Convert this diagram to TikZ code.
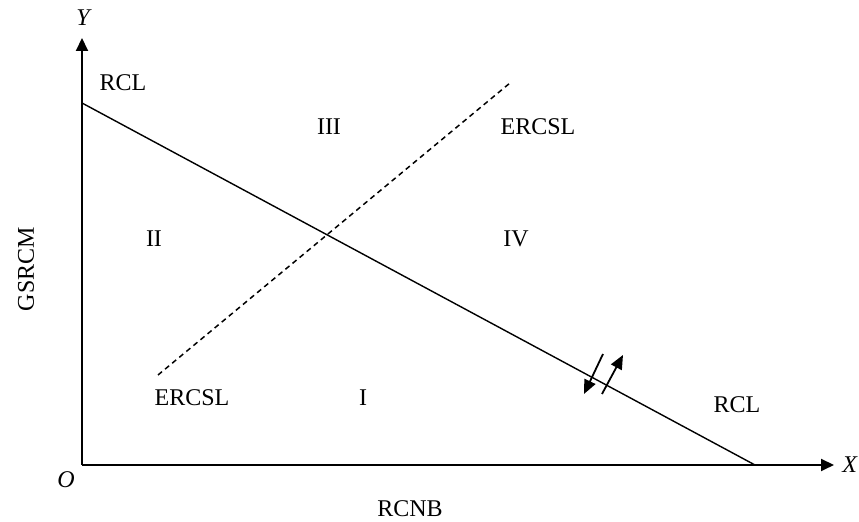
\documentclass[tikz,border=0pt]{standalone}
\usepackage{fontspec}
\setmainfont{Liberation Serif}
\usetikzlibrary{arrows.meta}
\tikzset{quad/.style={x=0.5pt,y=-0.5pt,font=\fontsize{12}{14}\selectfont}}
\tikzset{axis/.style={line width=1pt,-{Triangle[length=6.5pt,width=6pt]}},
         rcl/.style={line width=0.7pt},
         ercsl/.style={line width=0.75pt,dash pattern=on 2.6pt off 2pt},
         shiftarr/.style={line width=0.9pt,-{Triangle[length=7pt,width=6pt]}}}

\begin{document}
\begin{tikzpicture}[quad]
    \useasboundingbox (0,0) rectangle (859,522);
    \coordinate (O) at (82,465);
    \coordinate (ytop) at (82,38);
    \coordinate (xend) at (834,465);
    \draw[axis] (O) -- (ytop);
    \draw[axis] (O) -- (xend);
    \node (ylab) at (84,18) {\textit{Y}};
    \node (xlab) at (850,465) {\textit{X}};
    \node (olab) at (66,480) {\textit{O}};
    % the two lines
    \coordinate (rclA) at (82,103);
    \coordinate (rclB) at (755,465);
    \coordinate (ercA) at (158,375);
    \coordinate (ercB) at (510,83);
    \draw[rcl] (rclA) -- (rclB);
    \draw[ercsl] (ercA) -- (ercB);
    % shift arrows on RCL
    \coordinate (s1a) at (603,354);
    \coordinate (s1b) at (584,394);
    \coordinate (s2a) at (602,394);
    \coordinate (s2b) at (623,355);
    \draw[shiftarr] (s1a) -- (s1b);
    \draw[shiftarr] (s2a) -- (s2b);
    % labels
    \node (rcltop) at (123,83) {RCL};
    \node (rclbot) at (737,405) {RCL};
    \node (erctop) at (538,127) {ERCSL};
    \node (ercbot) at (192,398) {ERCSL};
    \node (q1) at (363,398) {I};
    \node (q2) at (154,239) {II};
    \node (q3) at (329,127) {III};
    \node (q4) at (516,239) {IV};
    \node[rotate=90] (gsrcm) at (26,269) {GSRCM};
    \node (rcnb) at (410,509) {RCNB};
  \end{tikzpicture}
\end{document}
